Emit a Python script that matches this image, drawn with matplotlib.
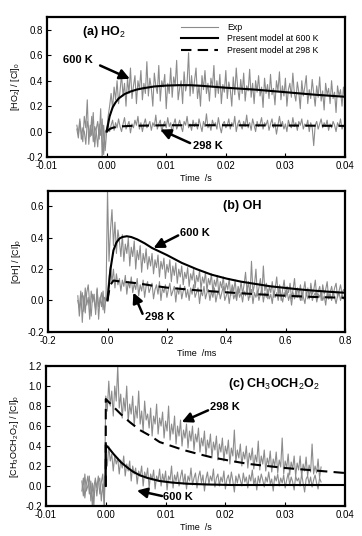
import matplotlib
matplotlib.use("Agg")
import matplotlib.pyplot as plt
import numpy as np
from matplotlib.lines import Line2D

plt.rcParams['font.family'] = ['Liberation Sans', 'DejaVu Sans']
plt.rcParams['mathtext.fontset'] = 'custom'
plt.rcParams['mathtext.rm'] = 'Liberation Sans'
plt.rcParams['mathtext.bf'] = 'Liberation Sans:bold'

# ---------------------------------------------------------------- data
# (a) HO2, time in s
a600_exp = [0.02, -0.05, 0.08, 0.0, -0.08, 0.12, 0.03, 0.25, -0.1, 0.05, -0.03, 0.15, -0.12, 0.02, 0.08, -0.06, 0.18, -0.2, 0.05, -0.15,
            0.0, 0.12, 0.2, 0.3, 0.18, 0.35, 0.25, 0.4, 0.22, 0.32,
            0.45, 0.28, 0.38, 0.2, 0.42, 0.3, 0.5, 0.26, 0.36, 0.44,
            0.22, 0.4, 0.33, 0.48, 0.25, 0.38, 0.3, 0.55, 0.28, 0.42,
            0.34, 0.2, 0.46, 0.36, 0.3, 0.52, 0.24, 0.4, 0.35, 0.45,
            0.18, 0.38, 0.3, 0.5, 0.27, 0.43, 0.36, 0.56, 0.25, 0.34,
            0.4, 0.22, 0.47, 0.32, 0.38, 0.62, 0.28, 0.44, 0.3, 0.4,
            0.5, 0.26, 0.36, 0.2, 0.44, 0.33, 0.48, 0.3, 0.38, 0.24,
            0.42, 0.35, 0.52, 0.27, 0.4, 0.3, 0.45, 0.22, 0.37, 0.31,
            0.48, 0.26, 0.39, 0.33, 0.2, 0.43, 0.29, 0.5, 0.34, 0.25,
            0.41, 0.3, 0.46, 0.24, 0.36, 0.32, 0.49, 0.27, 0.38, 0.22,
            0.4, 0.31, 0.44, 0.28, 0.35, 0.19, 0.42, 0.3, 0.37, 0.26,
            0.45, 0.29, 0.34, 0.21, 0.4, 0.32, 0.47, 0.25, 0.36, 0.28,
            0.42, 0.2, 0.33, 0.38, 0.27, 0.46, 0.3, 0.24, 0.39, 0.31,
            0.18, 0.4, 0.28, 0.35, 0.44, 0.22, 0.33, 0.26, 0.41, 0.3,
            0.2, 0.36, 0.27, 0.43, 0.24, 0.32, 0.17, 0.38, 0.29, 0.34,
            0.22, 0.4, 0.26, 0.31, 0.15, 0.36, 0.28, 0.33, 0.2, 0.35, 0.25]
a298_exp = [0.05, -0.02, 0.1, -0.06, 0.03, 0.0, -0.1, 0.08, 0.02, -0.04, 0.12, -0.08, 0.04, 0.0, -0.12, 0.06, -0.03, 0.1, -0.18, 0.0,
            0.02, 0.06, 0.0, 0.05, 0.09, 0.01, 0.07, 0.03, 0.1, 0.04,
            0.0, 0.06, 0.11, 0.02, 0.05, 0.08, -0.01, 0.06, 0.03, 0.09,
            0.05, 0.12, 0.02, 0.07, 0.0, 0.06, 0.1, 0.03, 0.05, 0.08,
            0.01, 0.07, 0.04, 0.13, 0.02, 0.06, 0.09, 0.0, 0.05, 0.08,
            0.03, 0.11, 0.04, 0.07, -0.02, 0.06, 0.1, 0.02, 0.05, 0.09,
            0.04, 0.0, 0.08, 0.05, 0.12, 0.03, 0.06, 0.01, 0.09, 0.04,
            0.07, 0.02, 0.1, 0.05, 0.0, 0.08, 0.04, 0.14, 0.03, 0.06,
            0.01, 0.09, 0.05, 0.07, 0.02, 0.11, 0.04, -0.01, 0.06, 0.08,
            0.03, 0.05, 0.1, 0.02, 0.07, 0.04, 0.12, 0.0, 0.06, 0.09,
            0.05, 0.02, 0.08, 0.04, 0.13, 0.03, 0.07, 0.01, 0.1, 0.05,
            0.0, 0.08, 0.04, 0.06, 0.11, 0.02, 0.07, 0.05, 0.09, 0.01,
            0.06, 0.1, 0.03, 0.07, -0.02, 0.05, 0.12, 0.04, 0.08, 0.02,
            0.06, 0.0, 0.09, 0.05, 0.03, 0.11, 0.04, 0.07, 0.01, 0.08,
            0.05, 0.1, 0.02, 0.06, 0.04, 0.09, 0.0, 0.07, 0.03, -0.11,
            0.05, 0.08, 0.02, 0.06, 0.1, 0.03, 0.07, 0.04, 0.09, 0.01,
            0.06, 0.03, 0.08, 0.05, 0.0, 0.07, 0.04, 0.1, 0.02, 0.05, 0.04]
a_exp_range = (-0.005, 0.04)
a600_t = [0, 0.0005, 0.001, 0.0015, 0.002, 0.003, 0.004, 0.005, 0.006, 0.008, 0.01, 0.012, 0.014, 0.016, 0.02, 0.025, 0.03, 0.035, 0.04]
a600_y = [0, 0.12, 0.19, 0.23, 0.26, 0.295, 0.315, 0.33, 0.34, 0.355, 0.362, 0.365, 0.365, 0.36, 0.345, 0.33, 0.31, 0.29, 0.274]
a298_t = [0, 0.0005, 0.001, 0.002, 0.004, 0.007, 0.01, 0.015, 0.02, 0.03, 0.04]
a298_y = [0, 0.02, 0.03, 0.04, 0.045, 0.048, 0.05, 0.05, 0.05, 0.048, 0.045]

# (b) OH, time in ms
b600_exp = [0.0, -0.05, 0.06, -0.14, 0.03, -0.08, 0.05, 0.1, -0.02, -0.1, 0.04, 0.0, -0.06, 0.08, -0.12, 0.02, -0.04, 0.06, -0.08, 0.03,
            0.7, 0.25, 0.45, 0.58, 0.35, 0.5, 0.3, 0.45, 0.38, 0.28,
            0.42, 0.25, 0.36, 0.3, 0.4, 0.22, 0.34, 0.28, 0.38, 0.2,
            0.32, 0.26, 0.35, 0.18, 0.3, 0.24, 0.33, 0.2, 0.28, 0.22,
            0.3, 0.17, 0.26, 0.21, 0.29, 0.15, 0.25, 0.2, 0.27, 0.14,
            0.23, 0.18, 0.26, 0.12, 0.22, 0.16, 0.24, 0.11, 0.2, 0.15,
            0.22, 0.1, 0.18, 0.14, 0.21, 0.09, 0.17, 0.13, 0.2, 0.08,
            0.16, 0.12, 0.19, 0.07, 0.15, 0.11, 0.18, 0.06, 0.14, 0.1,
            0.17, 0.05, 0.13, 0.09, 0.16, 0.04, 0.12, 0.08, 0.15, 0.05,
            0.11, 0.07, 0.14, 0.03, 0.1, 0.06, 0.13, 0.02, 0.09, 0.05,
            0.12, 0.04, 0.1, 0.18, 0.06, 0.12, 0.02, 0.25, 0.05, 0.1,
            0.2, 0.03, 0.08, 0.14, 0.04, 0.22, 0.06, 0.11, 0.01, 0.09,
            0.05, 0.12, 0.02, 0.08, 0.15, 0.04, 0.1, 0.0, 0.07, 0.13,
            0.03, 0.09, 0.05, 0.11, 0.01, 0.07, 0.14, 0.02, 0.08, 0.04,
            0.1, 0.0, 0.06, 0.12, 0.03, 0.08, 0.01, 0.11, 0.04, 0.07,
            0.13, 0.02, 0.06, 0.09, 0.0, 0.1, 0.04, 0.07, 0.12, 0.01,
            0.05, 0.09, 0.03, 0.08, 0.11, 0.02, 0.06, 0.1, 0.04, 0.07, 0.05]
b298_exp = [0.03, -0.1, 0.0, 0.05, -0.07, 0.08, -0.03, 0.02, -0.12, 0.06, -0.01, 0.04, -0.09, 0.07, -0.04, 0.01, 0.05, -0.06, 0.02, 0.0,
            0.05, 0.15, 0.22, 0.12, 0.2, 0.08, 0.17, 0.1, 0.14, 0.06,
            0.13, 0.09, 0.16, 0.04, 0.12, 0.08, 0.15, 0.05, 0.11, 0.07,
            0.14, 0.03, 0.1, 0.06, 0.13, 0.02, 0.09, 0.12, 0.05, 0.08,
            0.11, 0.01, 0.07, 0.1, 0.04, 0.12, 0.0, 0.08, 0.05, 0.1,
            0.02, 0.07, 0.11, 0.03, 0.06, 0.09, -0.01, 0.08, 0.04, 0.1,
            0.01, 0.06, 0.09, 0.02, 0.07, 0.0, 0.08, 0.04, 0.1, 0.02,
            0.05, 0.08, -0.02, 0.06, 0.03, 0.09, 0.01, 0.05, 0.07, 0.0,
            0.06, 0.02, 0.08, -0.01, 0.04, 0.07, 0.01, 0.05, 0.09, 0.0,
            0.03, 0.06, -0.02, 0.05, 0.08, 0.01, 0.04, 0.0, 0.07, 0.02,
            0.05, -0.01, 0.06, 0.03, 0.08, 0.0, 0.04, 0.07, -0.02, 0.05,
            0.02, 0.06, 0.0, 0.04, 0.08, -0.01, 0.05, 0.02, 0.07, 0.01,
            0.04, -0.02, 0.06, 0.02, 0.05, 0.0, 0.07, 0.03, -0.01, 0.05,
            0.02, 0.06, 0.0, 0.04, -0.03, 0.05, 0.01, 0.07, 0.02, 0.04,
            0.0, 0.06, 0.02, -0.02, 0.05, 0.01, 0.04, 0.07, 0.0, 0.03,
            0.05, -0.01, 0.04, 0.02, 0.06, 0.0, 0.03, -0.03, 0.05, 0.01,
            0.04, 0.0, 0.06, 0.02, -0.02, 0.03, 0.05, 0.0, 0.04, 0.01, 0.02]
b_exp_range = (-0.1, 0.8)
b600_t = [0, 0.005, 0.01, 0.02, 0.03, 0.04, 0.05, 0.065, 0.08, 0.1, 0.125, 0.15, 0.2, 0.25, 0.3, 0.35, 0.4, 0.45, 0.5, 0.55, 0.6, 0.65, 0.7, 0.75, 0.8]
b600_y = [0, 0.1, 0.2, 0.32, 0.37, 0.395, 0.405, 0.41, 0.405, 0.39, 0.365, 0.335, 0.29, 0.24, 0.2, 0.165, 0.14, 0.12, 0.105, 0.09, 0.08, 0.07, 0.062, 0.055, 0.049]
b298_t = [0, 0.005, 0.01, 0.02, 0.05, 0.1, 0.15, 0.2, 0.3, 0.4, 0.5, 0.6, 0.7, 0.8]
b298_y = [0, 0.06, 0.1, 0.127, 0.12, 0.11, 0.095, 0.082, 0.065, 0.052, 0.04, 0.03, 0.022, 0.017]

# (c) CH3OCH2O2, time in s
c298_exp = [0.05, -0.1, 0.12, -0.05, 0.0, 0.1, -0.15, 0.03, -0.2, 0.08, -0.02, 0.1, -0.08, 0.04, 0.12, -0.2,
            0.9, 0.75, 1.05, 0.8, 0.95, 0.7, 1.0, 0.85, 1.2, 0.78,
            0.92, 0.68, 0.88, 0.75, 1.0, 0.65, 0.82, 0.72, 0.9, 0.6,
            0.8, 0.68, 0.95, 0.62, 0.75, 0.55, 0.85, 0.66, 0.72, 0.58,
            0.78, 0.5, 0.7, 0.62, 0.82, 0.52, 0.68, 0.6, 0.74, 0.48,
            0.65, 0.55, 0.8, 0.46, 0.62, 0.52, 0.7, 0.42, 0.6, 0.5,
            0.66, 0.4, 0.56, 0.48, 0.62, 0.38, 0.55, 0.45, 0.6, 0.36,
            0.52, 0.44, 0.58, 0.34, 0.48, 0.4, 0.55, 0.3, 0.46, 0.38,
            0.52, 0.28, 0.44, 0.36, 0.5, 0.26, 0.42, 0.34, 0.48, 0.25,
            0.4, 0.32, 0.46, 0.22, 0.38, 0.3, 0.56, 0.24, 0.36, 0.28,
            0.42, 0.2, 0.34, 0.27, 0.4, 0.18, 0.33, 0.26, 0.38, 0.17,
            0.31, 0.24, 0.45, 0.16, 0.3, 0.22, 0.36, 0.15, 0.28, 0.21,
            0.35, 0.14, 0.27, 0.2, 0.34, 0.13, 0.26, 0.19, 0.48, 0.12,
            0.25, 0.18, 0.32, 0.11, 0.24, 0.17, 0.3, 0.1, 0.23, 0.16,
            0.3, 0.09, 0.22, 0.15, 0.29, 0.1, 0.21, 0.14, 0.42, 0.12,
            0.2, 0.13, 0.27, 0.08, 0.19]
c600_exp = [-0.05, 0.08, -0.12, 0.02, 0.1, -0.08, 0.05, -0.2, 0.0, 0.06, -0.1, 0.04, 0.08, -0.15, 0.02, -0.2,
            0.35, 0.2, 0.4, 0.25, 0.32, 0.15, 0.3, 0.22, 0.28, 0.12,
            0.26, 0.18, 0.3, 0.1, 0.22, 0.15, 0.25, 0.05, 0.2, 0.12,
            0.18, 0.02, 0.15, 0.1, 0.2, 0.0, 0.14, 0.08, 0.18, -0.02,
            0.12, 0.06, 0.16, -0.03, 0.1, 0.05, 0.17, 0.0, 0.12, 0.04,
            0.15, -0.04, 0.1, 0.06, 0.2, -0.02, 0.11, 0.05, 0.14, 0.0,
            0.09, 0.16, 0.02, 0.12, -0.03, 0.1, 0.05, 0.18, 0.01, 0.08,
            0.13, -0.02, 0.09, 0.15, 0.03, 0.11, -0.05, 0.07, 0.14, 0.02,
            0.1, 0.05, 0.17, -0.01, 0.08, 0.12, 0.0, 0.09, 0.04, 0.15,
            -0.03, 0.07, 0.11, 0.02, 0.14, 0.05, -0.06, 0.1, 0.03, 0.12,
            0.06, 0.0, 0.13, 0.04, 0.09, -0.02, 0.11, 0.05, 0.16, 0.01,
            0.08, -0.04, 0.1, 0.03, 0.12, 0.06, -0.01, 0.09, 0.04, 0.14,
            0.02, 0.07, -0.05, 0.1, 0.05, 0.12, 0.0, 0.08, 0.03, 0.11,
            -0.02, 0.06, 0.13, 0.01, 0.09, 0.04, -0.04, 0.1, 0.05, 0.08,
            0.0, 0.12, 0.03, -0.06, 0.07, 0.1, 0.02, 0.09, -0.01, 0.06,
            0.11, 0.03, -0.03, 0.08, 0.04]
c_exp_range = (-0.004, 0.036)
c298_t = [0, 0, 0.0005, 0.0015, 0.0025, 0.004, 0.0057, 0.0075, 0.009, 0.011, 0.013, 0.0155, 0.0175, 0.021, 0.024, 0.027, 0.03, 0.035, 0.04]
c298_y = [0, 0.87, 0.84, 0.78, 0.72, 0.64, 0.56, 0.5, 0.44, 0.4, 0.36, 0.32, 0.29, 0.25, 0.22, 0.2, 0.18, 0.155, 0.13]
c600_t = [0, 0, 0.0005, 0.0013, 0.0025, 0.0035, 0.0045, 0.0057, 0.007, 0.009, 0.011, 0.0135, 0.017, 0.021, 0.025, 0.03, 0.04]
c600_y = [0, 0.41, 0.38, 0.32, 0.24, 0.19, 0.145, 0.107, 0.08, 0.05, 0.035, 0.023, 0.015, 0.01, 0.01, 0.01, 0.01]

GREY = '#8c8c8c'
DASH = (0, (5, 3))


def exp_time(values, rng):
    return np.linspace(rng[0], rng[1], len(values))


def style_axes(ax, xlim, ylim, xticks, yticks, xfmt, yfmt, xlabel, ylabel):
    ax.set_xlim(*xlim)
    ax.set_ylim(*ylim)
    ax.set_xticks(xticks)
    ax.set_yticks(yticks)
    ax.set_xticklabels([xfmt.format(v) for v in xticks])
    ax.set_yticklabels([yfmt.format(v) for v in yticks])
    ax.tick_params(direction='in', length=3, width=0.8, labelsize=7, pad=3)
    for s in ax.spines.values():
        s.set_linewidth(1.6)
    ax.set_xlabel(xlabel, fontsize=6.5, labelpad=2)
    ax.set_ylabel(ylabel, fontsize=6.5, labelpad=3)


def arrow(ax, text, xy, xytext, tx, ty):
    ax.annotate('', xy=xy, xytext=xytext,
                arrowprops=dict(arrowstyle='-|>,head_length=0.6,head_width=0.3', color='k', lw=1.8,
                                shrinkA=0, shrinkB=0))
    ax.text(tx, ty, text, fontsize=8, fontweight='bold', va='center', ha='left')


# ---------------------------------------------------------------- figure
fig = plt.figure(figsize=(3.62, 5.36), dpi=100)
ax_a = fig.add_axes([0.130, 0.707, 0.823, 0.261])
ax_b = fig.add_axes([0.133, 0.381, 0.820, 0.263])
ax_c = fig.add_axes([0.127, 0.056, 0.826, 0.261])

# (a)
ax_a.plot(exp_time(a600_exp, a_exp_range), a600_exp, color=GREY, lw=0.8)
ax_a.plot(exp_time(a298_exp, a_exp_range), a298_exp, color=GREY, lw=0.8)
ax_a.plot(a600_t, a600_y, color='k', lw=1.5)
ax_a.plot(a298_t, a298_y, color='k', lw=1.5, linestyle=DASH)
style_axes(ax_a, (-0.01, 0.04), (-0.2, 0.9), [-0.01, 0.0, 0.01, 0.02, 0.03, 0.04],
           [-0.2, 0.0, 0.2, 0.4, 0.6, 0.8], '{:.2f}', '{:.1f}', 'Time  /s', r'[HO$_2$] / [Cl]$_0$')
ax_a.text(-0.0041, 0.78, r'(a) HO$_2$', fontsize=9, fontweight='bold', va='center')
arrow(ax_a, '600 K', (0.0039, 0.415), (-0.0011, 0.52), -0.0073, 0.56)
arrow(ax_a, '298 K', (0.009, 0.016), (0.014, -0.09), 0.0145, -0.115)
handles = [Line2D([], [], color=GREY, lw=0.8),
           Line2D([], [], color='k', lw=1.5),
           Line2D([], [], color='k', lw=1.5, linestyle=DASH)]
ax_a.legend(handles, ['Exp', 'Present model at 600 K', 'Present model at 298 K'],
            loc='upper left', bbox_to_anchor=(0.43, 1.0), frameon=False, fontsize=6.3,
            handlelength=4.2, handletextpad=1.0, labelspacing=0.25, borderaxespad=0.3)

# (b)
ax_b.plot(exp_time(b600_exp, b_exp_range), b600_exp, color=GREY, lw=0.8)
ax_b.plot(exp_time(b298_exp, b_exp_range), b298_exp, color=GREY, lw=0.8)
ax_b.plot(b600_t, b600_y, color='k', lw=1.5)
ax_b.plot(b298_t, b298_y, color='k', lw=1.5, linestyle=DASH)
style_axes(ax_b, (-0.2, 0.8), (-0.2, 0.7), [-0.2, 0.0, 0.2, 0.4, 0.6, 0.8],
           [-0.2, 0.0, 0.2, 0.4, 0.6], '{:.1f}', '{:.1f}', 'Time  /ms', '[OH] / [Cl]$_0$')
ax_b.text(0.388, 0.6, '(b) OH', fontsize=9, fontweight='bold', va='center')
arrow(ax_b, '600 K', (0.155, 0.335), (0.238, 0.415), 0.244, 0.43)
arrow(ax_b, '298 K', (0.087, 0.05), (0.118, -0.085), 0.125, -0.105)

# (c)
ax_c.plot(exp_time(c298_exp, c_exp_range), c298_exp, color=GREY, lw=0.8)
ax_c.plot(exp_time(c600_exp, c_exp_range), c600_exp, color=GREY, lw=0.8)
ax_c.plot(c298_t, c298_y, color='k', lw=1.5, linestyle=DASH)
ax_c.plot(c600_t, c600_y, color='k', lw=1.5)
style_axes(ax_c, (-0.01, 0.04), (-0.2, 1.2), [-0.01, 0.0, 0.01, 0.02, 0.03, 0.04],
           [-0.2, 0.0, 0.2, 0.4, 0.6, 0.8, 1.0, 1.2], '{:.2f}', '{:.1f}', 'Time  /s',
           r'[CH$_3$OCH$_2$O$_2$] / [Cl]$_0$')
ax_c.text(0.0205, 1.02, r'(c) CH$_3$OCH$_2$O$_2$', fontsize=9, fontweight='bold', va='center')
arrow(ax_c, '298 K', (0.0127, 0.64), (0.0171, 0.757), 0.0175, 0.79)
arrow(ax_c, '600 K', (0.0052, -0.045), (0.0094, -0.1), 0.0096, -0.115)

fig.savefig('out.png', dpi=100)
